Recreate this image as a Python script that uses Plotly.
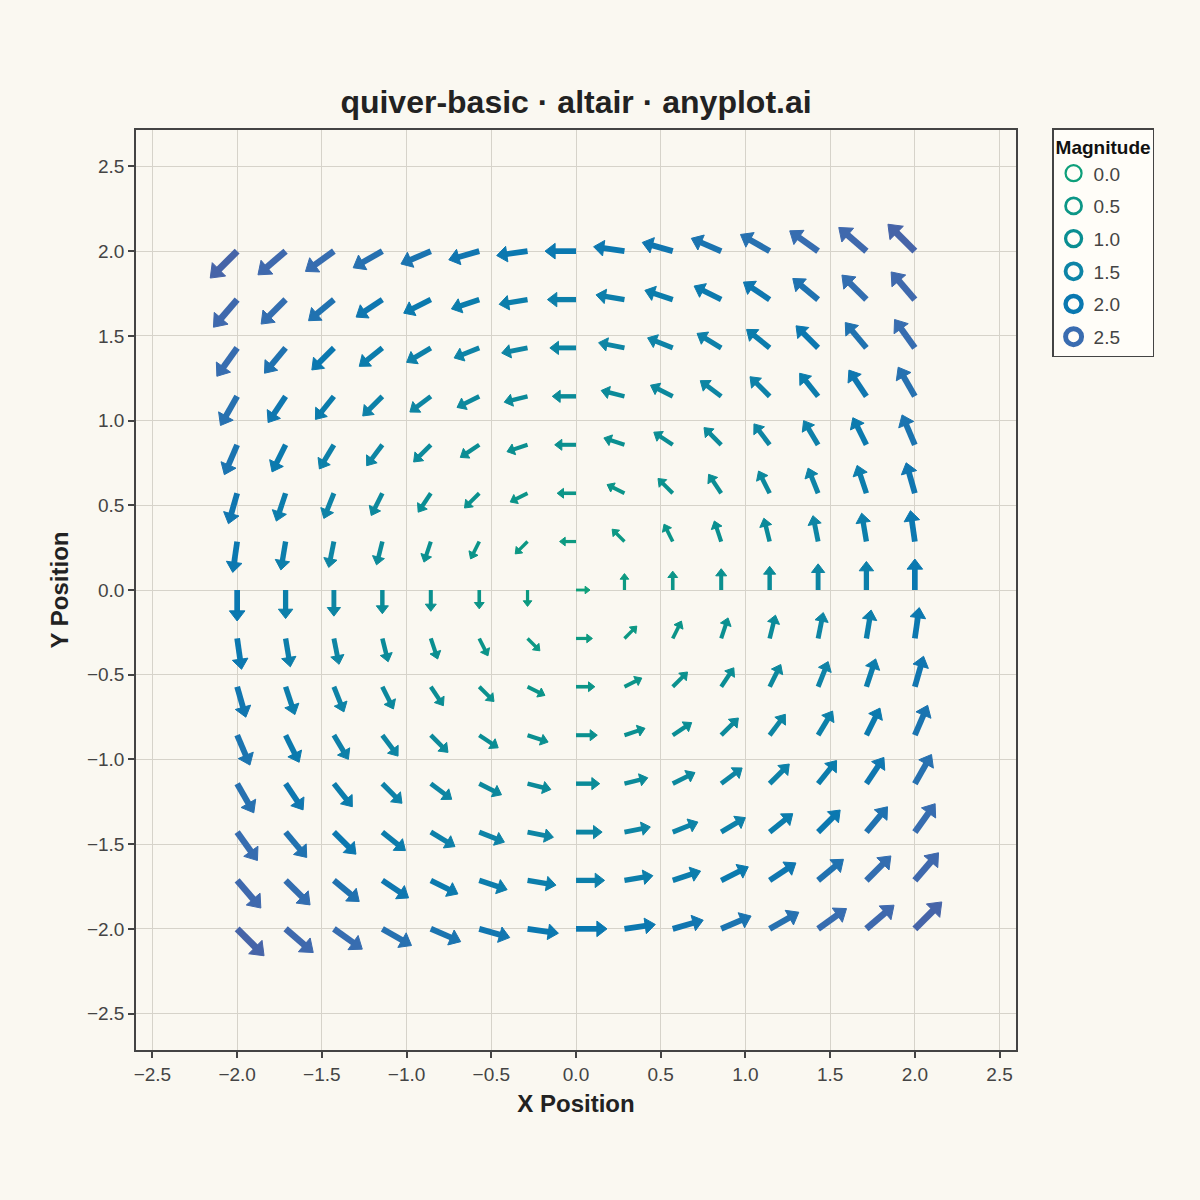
import math
import plotly.graph_objects as go
from plotly.colors import sample_colorscale

# ---- data ----
x_pos = [-2.0, -1.714, -1.429, -1.143, -0.857, -0.571, -0.286, 0.0,
         0.286, 0.571, 0.857, 1.143, 1.429, 1.714, 2.0]
y_pos = [-2.0, -1.714, -1.429, -1.143, -0.857, -0.571, -0.286, 0.0,
         0.286, 0.571, 0.857, 1.143, 1.429, 1.714, 2.0]
# horizontal component per row (depends on y), vertical per column (depends on x)
u_by_row = [2.0, 1.714, 1.429, 1.143, 0.857, 0.571, 0.286, 0.0,
            -0.286, -0.571, -0.857, -1.143, -1.429, -1.714, -2.0]
v_by_col = [-2.0, -1.714, -1.429, -1.143, -0.857, -0.571, -0.286, 0.0,
            0.286, 0.571, 0.857, 1.143, 1.429, 1.714, 2.0]
legend_values = [0.0, 0.5, 1.0, 1.5, 2.0, 2.5]

# ---- styling ----
BG = "#FAF8F1"
FONT = "Liberation Sans, Arial, sans-serif"
PX_PER_UNIT = 169.4
MAX_MAG = 2.83
cscale = [[0.0, "#0E9F7A"], [0.35, "#0A8E92"], [0.53, "#0E84A6"],
          [0.71, "#0A78B0"], [0.88, "#3A6CB0"], [1.0, "#4664A8"]]


def mag_color(m):
    return sample_colorscale(cscale, [min(m / MAX_MAG, 1.0)])[0]


fig = go.Figure()

head_x, head_y, head_c, head_s, head_a = [], [], [], [], []
for j, y in enumerate(y_pos):
    for i, x in enumerate(x_pos):
        u = u_by_row[j]
        v = v_by_col[i]
        m = math.hypot(u, v)
        ang = math.atan2(v, u)
        dx, dy = math.cos(ang), math.sin(ang)
        length = (14 + 8.5 * m) / PX_PER_UNIT
        size = 6.5 + 3.5 * m
        width = 2.8 + 1.45 * m
        tipx, tipy = x + length * dx, y + length * dy
        r = (size / 2) / PX_PER_UNIT
        cx, cy = tipx - r * dx, tipy - r * dy
        col = mag_color(m)
        fig.add_trace(go.Scatter(
            x=[x, cx], y=[y, cy], mode="lines",
            line=dict(color=col, width=width),
            showlegend=False, hoverinfo="skip"))
        head_x.append(cx)
        head_y.append(cy)
        head_c.append(col)
        head_s.append(size)
        head_a.append(90 - math.degrees(ang))

fig.add_trace(go.Scatter(
    x=head_x, y=head_y, mode="markers",
    marker=dict(symbol="triangle-up", size=head_s, color=head_c,
                angle=head_a, opacity=1,
                line=dict(width=1, color=head_c)),
    showlegend=False, hoverinfo="skip"))

for k, val in enumerate(legend_values):
    fig.add_trace(go.Scatter(
        x=[None], y=[None], mode="markers", name=f"{val:.1f}",
        legendgroup=f"g{k}",
        marker=dict(symbol="circle-open", size=16,
                    color=mag_color(val),
                    line=dict(color=mag_color(val), width=2.2 + 1.1 * val)),
        showlegend=True))

axis_common = dict(
    showgrid=True, gridcolor="#D6D3CA", gridwidth=1,
    zeroline=False, showline=True, linecolor="#444444", linewidth=1.5,
    mirror=True, ticks="outside", ticklen=6, tickwidth=1.5, tickcolor="#444444",
    tickfont=dict(family=FONT, size=19, color="#444444"),
    dtick=0.5, tick0=0, tickformat=".1f",
)

fig.update_layout(
    width=1200, height=1200,
    paper_bgcolor=BG, plot_bgcolor=BG,
    margin=dict(l=136, r=184, t=130, b=150),
    title=dict(text="<b>quiver-basic · altair · anyplot.ai</b>",
               x=(136 + 1016) / 2 / 1200, xanchor="center",
               y=1 - 102 / 1200, yanchor="middle",
               font=dict(family=FONT, size=32, color="#222222")),
    xaxis=dict(range=[-2.597, 2.597],
               title=dict(text="<b>X Position</b>", standoff=12,
                          font=dict(family=FONT, size=24, color="#222222")),
               **axis_common),
    yaxis=dict(range=[-2.715, 2.715],
               title=dict(text="<b>Y Position</b>", standoff=12,
                          font=dict(family=FONT, size=24, color="#222222")),
               **axis_common),
    legend=dict(
        title=dict(text="<b>Magnitude</b>",
                   font=dict(family=FONT, size=19, color="#111111")),
        font=dict(family=FONT, size=19, color="#444444"),
        x=1.041, y=1.002, xanchor="left", yanchor="top",
        bgcolor="#FFFDF8", bordercolor="#444444", borderwidth=1.5,
        itemsizing="trace", tracegroupgap=5, itemwidth=30,
    ),
)

fig.write_html(
    "out.html",
    config={"displayModeBar": False},
    post_script="document.body.style.margin='0';"
                "document.body.style.background='#FAF8F1';",
)
